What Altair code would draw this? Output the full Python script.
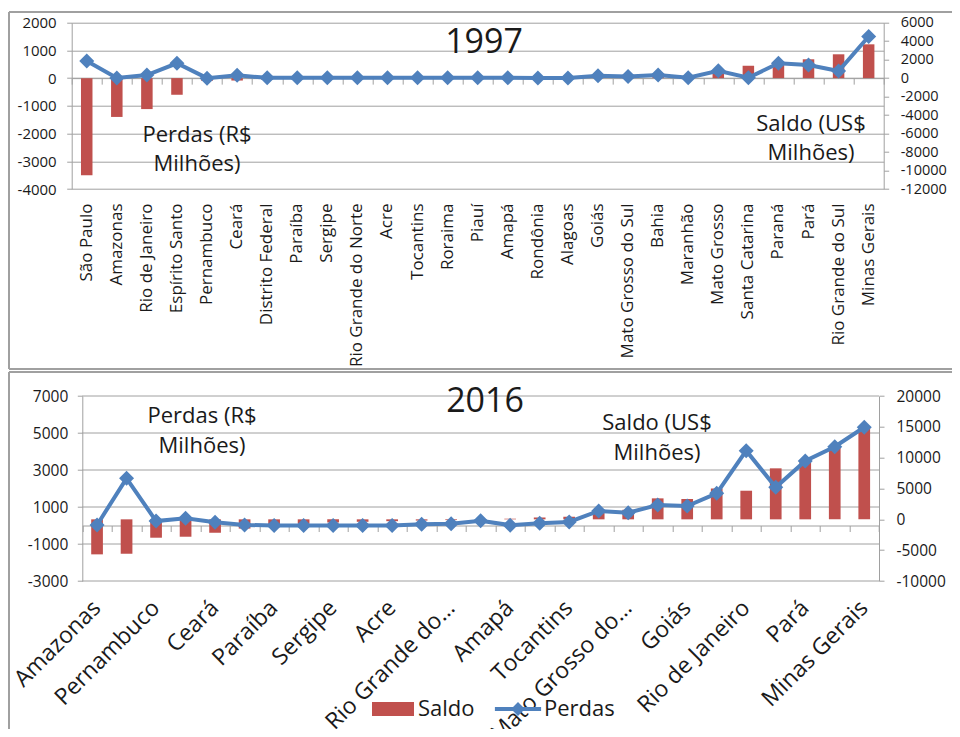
import altair as alt
import pandas as pd

# ---------------- data ----------------
estados_1997 = ["São Paulo", "Amazonas", "Rio de Janeiro", "Espírito Santo", "Pernambuco", "Ceará",
                "Distrito Federal", "Paraíba", "Sergipe", "Rio Grande do Norte", "Acre", "Tocantins",
                "Roraima", "Piauí", "Amapá", "Rondônia", "Alagoas", "Goiás", "Mato Grosso do Sul",
                "Bahia", "Maranhão", "Mato Grosso", "Santa Catarina", "Paraná", "Pará",
                "Rio Grande do Sul", "Minas Gerais"]
saldo_1997 = [-10500, -4200, -3350, -1800, -300, -260, -200, -160, -130, -110, -90, -70, -50, -40,
              -30, -15, 0, 60, 90, 130, 170, 750, 1340, 1600, 2040, 2580, 3660]
perdas_1997 = [620, 5, 110, 535, 0, 100, 10, 10, 10, 10, 10, 10, 10, 15, 10, 5, 5, 85, 55, 110,
               15, 265, 15, 540, 470, 255, 1500]

estados_2016 = ["Amazonas", "São Paulo", "Pernambuco", "Santa Catarina", "Ceará", "Distrito Federal",
                "Paraíba", "Alagoas", "Sergipe", "Roraima", "Acre", "Piauí", "Rio Grande do Norte",
                "Maranhão", "Amapá", "Rondônia", "Tocantins", "Bahia", "Mato Grosso do Sul",
                "Espírito Santo", "Goiás", "Paraná", "Rio de Janeiro", "Rio Grande do Sul", "Pará",
                "Mato Grosso", "Minas Gerais"]
saldo_2016 = [-5680, -5580, -2980, -2820, -2175, -1500, -900, -700, -500, -400, -300, -200, -120,
              -50, 100, 300, 420, 1500, 1550, 3400, 3300, 5000, 4640, 8270, 9500, 11900, 14800]
perdas_2016 = [30, 2550, 240, 390, 170, 30, 0, 0, 0, 0, 0, 70, 90, 260, 20, 120, 190, 785, 690,
               1110, 1055, 1740, 4045, 2065, 3490, 4260, 5310]
rotulos_2016 = ["Amazonas", "Pernambuco", "Ceará", "Paraíba", "Sergipe", "Acre",
                "Rio Grande do Norte", "Amapá", "Tocantins", "Mato Grosso do Sul", "Goiás",
                "Rio de Janeiro", "Pará", "Minas Gerais"]
series = ["Saldo", "Perdas"]

ticks_esq_1997 = [-4000, -3000, -2000, -1000, 0, 1000, 2000]
ticks_dir_1997 = [-12000, -10000, -8000, -6000, -4000, -2000, 0, 2000, 4000, 6000]
ticks_esq_2016 = [-3000, -1000, 1000, 3000, 5000, 7000]
ticks_dir_2016 = [-10000, -5000, 0, 5000, 10000, 15000, 20000]

# ---------------- style / geometry ----------------
RED = "#C0504D"
BLUE = "#4F81BD"
GRAY = "#a0a0a0"
FONT = "Open Sans"
INK = "#1a1a1a"

# one view; its origin sits at page (71.7, 22.7); page content kept inside 944 x 721
OX, OY = 71.7, 22.7
W, H = 812, 558.3
PAGE_W, PAGE_H = 944, 721
P1 = dict(x0=0, x1=812, yb=166.3, yt=0)          # 1997 plot area
P2 = dict(x0=10.6, x1=807.3, yb=558.3, yt=373.3)  # 2016 plot area


def y_axis(orient, values, grid, pad, offset=0, size=15):
    return alt.Axis(orient=orient, values=values, grid=grid, gridColor=GRAY, gridWidth=1,
                    domain=True, domainColor=GRAY, domainWidth=1, ticks=True, tickColor=GRAY,
                    tickSize=5, labelFont=FONT, labelFontSize=size, labelColor=INK,
                    labelPadding=pad, labelExpr="datum.value + ''", title=None, offset=offset)


def text_layer(s, px, py, size, line_height=28):
    return alt.Chart(pd.DataFrame({"t": [s]})).mark_text(
        font=FONT, fontSize=size, align="center", baseline="alphabetic", lineBreak="\n",
        lineHeight=line_height, color=INK).encode(
        x=alt.value(px - OX), y=alt.value(py - OY), text="t:N")


def rule_layer(px, py, px2=None, py2=None):
    enc = {"x": alt.value(px - OX), "y": alt.value(py - OY)}
    if px2 is not None:
        enc["x2"] = alt.value(px2 - OX)
    if py2 is not None:
        enc["y2"] = alt.value(py2 - OY)
    return alt.Chart(pd.DataFrame({"k": [0]})).mark_rule(
        color=GRAY, strokeWidth=2).encode(**enc)


def panel(P, estados, saldo, perdas, ldom, lvals, rdom, rvals, label_axis, zero_frac,
          lpad, rpad, bar_size, axis_grid, lsize, rsize, color_enc=None):
    df = pd.DataFrame({"estado": estados, "saldo": saldo, "perdas": perdas})
    xs = alt.Scale(domain=estados, range=[P["x0"], P["x1"]], paddingInner=0, paddingOuter=0)
    ls = alt.Scale(domain=ldom, range=[P["yb"], P["yt"]], nice=False)
    rs = alt.Scale(domain=rdom, range=[P["yb"], P["yt"]], nice=False)
    zero_y = P["yt"] + (P["yb"] - P["yt"]) * (1 - zero_frac)
    zero_axis = alt.Axis(orient="bottom", offset=-(H - zero_y), labels=False, ticks=True,
                         tickBand="extent", tickSize=6, tickColor=GRAY, domain=True,
                         domainColor=GRAY, grid=False, title=None)
    base = alt.Chart(df)
    out = []
    if not axis_grid:
        grid_df = pd.DataFrame({"v": lvals})
        out.append(alt.Chart(grid_df).mark_rule(color=GRAY, strokeWidth=1).encode(
            y=alt.Y("v:Q", scale=ls, axis=None),
            x=alt.value(P["x0"]), x2=alt.value(P["x1"])))
    enc_bar = dict(x=alt.X("estado:N", scale=xs, axis=label_axis),
                   y=alt.Y("saldo:Q", scale=rs,
                           axis=y_axis("right", rvals, False, rpad, -(W - P["x1"]), rsize)))
    if color_enc is not None:
        enc_bar["color"] = color_enc
        bars = base.transform_calculate(serie="'Saldo'").mark_bar(size=bar_size).encode(**enc_bar)
    else:
        bars = base.mark_bar(size=bar_size, color=RED).encode(**enc_bar)
    line = base.mark_line(strokeWidth=4, color=BLUE).encode(
        x=alt.X("estado:N", scale=xs, axis=zero_axis),
        y=alt.Y("perdas:Q", scale=ls,
                axis=y_axis("left", lvals, axis_grid, lpad, -P["x0"], lsize)))
    pts = base.mark_point(shape="diamond", filled=True, size=225, opacity=1, color=BLUE).encode(
        x=alt.X("estado:N", scale=xs, axis=None),
        y=alt.Y("perdas:Q", scale=ls, axis=None))
    return out + [bars, line, pts]


# ---------------- 1997 panel ----------------
axis_lab_1997 = alt.Axis(orient="bottom", offset=-(H - P1["yb"]), labelAngle=-90,
                         labelAlign="right", labelBaseline="middle", labelFont=FONT,
                         labelFontSize=17, labelColor=INK, labelPadding=14, labelLimit=400,
                         labelOverlap=False, domain=False, ticks=False, grid=False, title=None)
layers = panel(P1, estados_1997, saldo_1997, perdas_1997, [-4000, 2000], ticks_esq_1997,
               [-12000, 6000], ticks_dir_1997, axis_lab_1997, 4 / 6, 10.5, 11.5, 11.5, True,
               15, 14.5)

# ---------------- 2016 panel ----------------
label_expr_2016 = ("datum.value == 'Rio Grande do Norte' ? 'Rio Grande do…' : "
                   "datum.value == 'Mato Grosso do Sul' ? 'Mato Grosso do…' : datum.value")
axis_lab_2016 = alt.Axis(orient="bottom", values=rotulos_2016, labelExpr=label_expr_2016,
                         labelAngle=-45, labelAlign="right", labelBaseline="middle",
                         labelFont=FONT, labelFontSize=23, labelColor=INK, labelPadding=23,
                         labelLimit=400, labelOverlap=False, domain=False, ticks=False,
                         grid=False, title=None)
shape_saldo = "M-1,-0.333H1V0.333H-1Z"
shape_perdas = "M-1.1,-0.09H1.1V0.09H-1.1Z M-0.33,0L0,-0.33L0.33,0L0,0.33Z"

leg_saldo = alt.Legend(title=None, orient="none", legendX=372 - OX, legendY=688 - OY,
                       labelFont=FONT, labelFontSize=22, labelColor=INK, labelOffset=4,
                       symbolSize=1764, symbolType=shape_saldo, symbolStrokeWidth=0,
                       symbolOpacity=1, padding=0)
leg_perdas = alt.Legend(title=None, orient="none", legendX=497 - OX, legendY=688 - OY,
                        labelFont=FONT, labelFontSize=22, labelColor=INK, labelOffset=5,
                        symbolSize=1764, symbolStrokeWidth=0, symbolOpacity=1,
                        symbolFillColor=BLUE, padding=0)
cor_saldo = alt.Color("serie:N", scale=alt.Scale(domain=series[:1], range=[RED]),
                      legend=leg_saldo)
layers += panel(P2, estados_2016, saldo_2016, perdas_2016, [-3000, 7000], ticks_esq_2016,
                [-10000, 20000], ticks_dir_2016, axis_lab_2016, 3 / 10, 9.5, 12, 11.7, False,
                15.5, 15.5, color_enc=cor_saldo)

# legend carrier for the Perdas series (invisible mark, visible legend entry)
layers.append(alt.Chart(pd.DataFrame({"serie": series[1:]})).mark_point(
    filled=True, color=BLUE, opacity=0, size=10).encode(
    x=alt.value(0), y=alt.value(0),
    shape=alt.Shape("serie:N", scale=alt.Scale(domain=series[1:], range=[shape_perdas]),
                    legend=leg_perdas)))

# titles, annotations, chart borders
layers += [
    text_layer("1997", 484, 53, 34),
    text_layer("Perdas (R$\nMilhões)", 197, 142, 22, 29),
    text_layer("Saldo (US$\nMilhões)", 811, 131, 22, 29),
    text_layer("2016", 485, 412, 34),
    text_layer("Perdas (R$\nMilhões)", 202, 423, 22, 30),
    text_layer("Saldo (US$\nMilhões)", 657, 430, 22, 30),
    rule_layer(9, 12, px2=960),
    rule_layer(9, 12, py2=369),
    rule_layer(9, 369, px2=960),
    rule_layer(9, 372, px2=960),
    rule_layer(9, 372, py2=737),
]

chart = alt.layer(*layers).resolve_scale(
    x="independent", y="independent", color="independent", shape="independent"
).resolve_axis(x="independent", y="independent").properties(
    width=W, height=H,
    autosize=alt.AutoSizeParams(type="none"),
    padding={"left": OX - 8, "top": OY - 8, "right": PAGE_W - (OX - 8) - W,
             "bottom": PAGE_H - (OY - 8) - H},
).configure_view(stroke=None)

chart.save("out.html", embed_options={"renderer": "svg", "actions": False})
